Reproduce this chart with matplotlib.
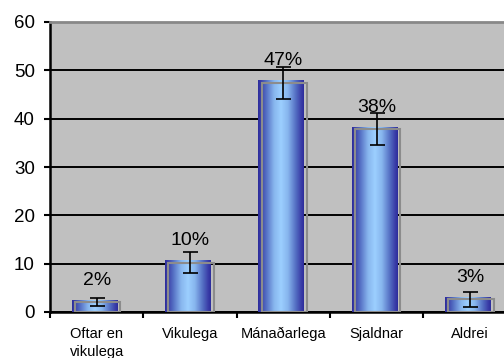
import numpy as np
import matplotlib.pyplot as plt
from matplotlib.colors import LinearSegmentedColormap
from matplotlib.patches import Rectangle

plt.rcParams['font.family'] = ['Liberation Sans', 'DejaVu Sans']

categories = ['Oftar en\nvikulega', 'Vikulega', 'Mánaðarlega', 'Sjaldnar', 'Aldrei']
values = [2.0, 10.2, 47.4, 37.8, 2.6]
errors = [0.85, 2.2, 3.3, 3.3, 1.5]
yticks = [0, 10, 20, 30, 40, 50, 60]

# blue cylinder-ish shading across each column
shade = LinearSegmentedColormap.from_list(
    'col', [(0.0, '#2c2c9c'), (0.06, '#3a3ea8'), (0.18, '#5570c4'), (0.35, '#88b6ee'),
            (0.5, '#9ccfff'), (0.65, '#88b6ee'), (0.82, '#5570c4'), (0.94, '#3a3ea8'),
            (1.0, '#2c2c9c')])
grad = np.linspace(0, 1, 256).reshape(1, -1)

fig = plt.figure(figsize=(5.04, 3.58), dpi=100)
ax = fig.add_axes([50/504, 46/358, 466.7/504, 290/358])
ax.set_facecolor('#c0c0c0')

x = np.arange(len(categories))
w = 0.488
lift = 0.47      # front face sits slightly above the back outline
shift = 0.035    # back outline sits slightly to the right

for i, v in enumerate(values):
    x0 = i - w/2 - 0.025
    ax.imshow(grad, cmap=shade, extent=[x0, x0 + w, 0, v + lift],
              aspect='auto', zorder=3, interpolation='bilinear')
    ax.add_patch(Rectangle((i - w/2 + shift - 0.025, 0), w, v, fill=False,
                           edgecolor='#8c8c8c', lw=1.5, zorder=4))

ax.errorbar(x, values, yerr=errors, fmt='none', ecolor='black',
            elinewidth=1.2, capsize=5.4, capthick=1.2, zorder=5)

for i, v in enumerate(values):
    ax.annotate(f'{v:.0f}%', (i, v), xytext=(0, 16), textcoords='offset points',
                ha='center', va='center', fontsize=14, zorder=6)

ax.set_xlim(-0.5, 4.5)
ax.set_ylim(0, 60)
ax.set_yticks(yticks)
ax.tick_params(axis='y', labelsize=13.5, length=4, width=1.5, pad=7, direction='out')

ax.set_xticks(x)
ax.set_xticklabels(categories, fontsize=10.5, linespacing=1.3)
ax.set_xticks(np.arange(-0.5, 4.6, 1), minor=True)
ax.tick_params(axis='x', which='major', length=0, pad=11)
ax.tick_params(axis='x', which='minor', length=4, width=1.5, direction='out')

ax.yaxis.grid(True, color='black', lw=1.4)
ax.set_axisbelow(True)

for s in ['left', 'bottom']:
    ax.spines[s].set_linewidth(1.8)
    ax.spines[s].set_color('black')
ax.spines['top'].set_color('#888888')
ax.spines['top'].set_linewidth(2)
ax.spines['right'].set_visible(False)

fig.savefig('out.png', dpi=100)
